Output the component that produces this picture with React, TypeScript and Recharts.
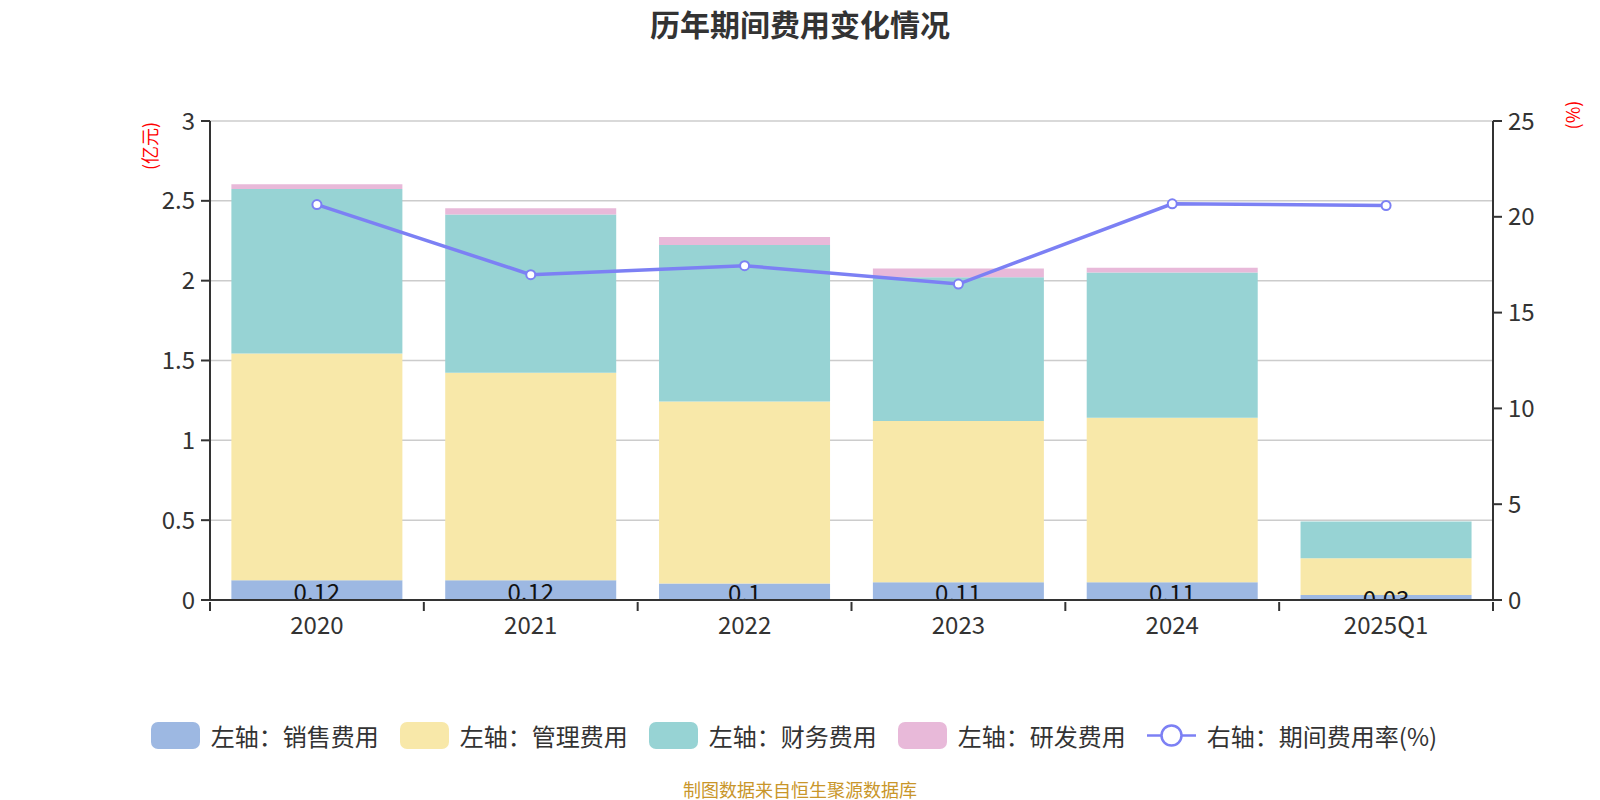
import React from "react"
import {
    ComposedChart,
    Bar,
    Line,
    XAxis,
    YAxis,
    CartesianGrid,
    Legend,
    LabelList,
} from "recharts"

const categories = ["2020", "2021", "2022", "2023", "2024", "2025Q1"]
const salesFee = [0.124, 0.124, 0.103, 0.111, 0.111, 0.032]
const adminFee = [1.42, 1.3, 1.14, 1.01, 1.03, 0.23]
const financeFee = [1.03, 0.99, 0.98, 0.9, 0.91, 0.23]
const rdFee = [0.03, 0.04, 0.05, 0.055, 0.03, 0]
const feeRate = [20.64, 16.98, 17.45, 16.49, 20.68, 20.59]

const leftTicks = [0, 0.5, 1, 1.5, 2, 2.5, 3]
const rightTicks = [0, 5, 10, 15, 20, 25]

const data = categories.map((c, i) => ({
    name: c,
    sales: salesFee[i],
    admin: adminFee[i],
    finance: financeFee[i],
    rd: rdFee[i],
    rate: feeRate[i],
}))

const FONT = "'Noto Sans CJK SC', 'Noto Sans', sans-serif"
const W = 1600
const H = 800
const PLOT_LEFT = 210
const PLOT_RIGHT = 1493
const BAND = (PLOT_RIGHT - PLOT_LEFT) / categories.length

const COLORS = {
    sales: "#9db8e2",
    admin: "#f8e8a9",
    finance: "#97d3d4",
    rd: "#e8b9d9",
    rate: "#7c80f4",
}

const legendItems = [
    { label: "左轴：销售费用", color: COLORS.sales, type: "rect" },
    { label: "左轴：管理费用", color: COLORS.admin, type: "rect" },
    { label: "左轴：财务费用", color: COLORS.finance, type: "rect" },
    { label: "左轴：研发费用", color: COLORS.rd, type: "rect" },
    { label: "右轴：期间费用率(%)", color: COLORS.rate, type: "line" },
]

// ticks sit on the category boundaries, like the original
function XTick(props: any) {
    const { x, y, payload, index } = props
    const left = x - BAND / 2
    return (
        <g>
            <line x1={left} x2={left} y1={y - 6} y2={y + 3} stroke="#333" strokeWidth={2} />
            {index === categories.length - 1 && (
                <line x1={x + BAND / 2} x2={x + BAND / 2} y1={y - 6} y2={y + 3} stroke="#333" strokeWidth={2} />
            )}
            <text x={x} y={y + 9} dy="0.71em" textAnchor="middle" fontSize={24} fill="#333" fontFamily={FONT}>
                {payload.value}
            </text>
        </g>
    )
}

// value label centred in the bar, cut off at the bar's bottom edge
function SalesLabel(props: any) {
    const vb = props.viewBox || props
    const { x, y, width, height } = vb
    const id = `sales-clip-${props.index}`
    const text = String(Number(Number(props.value).toFixed(2)))
    return (
        <g>
            <defs>
                <clipPath id={id}>
                    <rect x={x} y={y - 40} width={width} height={height + 39} />
                </clipPath>
            </defs>
            <text
                x={x + width / 2}
                y={y + height / 2}
                textAnchor="middle"
                dominantBaseline="central"
                fontSize={24}
                fill="#111"
                fontFamily={FONT}
                clipPath={`url(#${id})`}
            >
                {text}
            </text>
        </g>
    )
}

function LegendContent() {
    return (
        <div style={{ display: "flex", justifyContent: "center", alignItems: "center", fontFamily: FONT }}>
            {legendItems.map((item, i) => (
                <div
                    key={item.label}
                    style={{ display: "flex", alignItems: "center", marginRight: i === legendItems.length - 1 ? 0 : 21 }}
                >
                    {item.type === "rect" ? (
                        <div style={{ width: 49, height: 27, borderRadius: 7, background: item.color }} />
                    ) : (
                        <svg width={49} height={27}>
                            <line x1={0} x2={49} y1={13.5} y2={13.5} stroke={item.color} strokeWidth={2.5} />
                            <circle cx={24.5} cy={13.5} r={10} fill="#fff" stroke={item.color} strokeWidth={2.5} />
                        </svg>
                    )}
                    <span style={{ marginLeft: 11, fontSize: 24, color: "#333" }}>{item.label}</span>
                </div>
            ))}
        </div>
    )
}

export default function App() {
    return (
        <div style={{ position: "absolute", left: 0, top: 0, width: W, height: H, background: "#fff", fontFamily: FONT }}>
            <div
                style={{
                    position: "absolute",
                    top: 1,
                    width: W,
                    textAlign: "center",
                    fontSize: 30,
                    fontWeight: 700,
                    color: "#333",
                }}
            >
                历年期间费用变化情况
            </div>
            <div style={{ position: "absolute", left: 149, top: 146, transform: "translate(-50%, -50%) rotate(-90deg)", color: "red", fontSize: 18, whiteSpace: "nowrap" }}>
                (亿元)
            </div>
            <div style={{ position: "absolute", left: 1572, top: 115, transform: "translate(-50%, -50%) rotate(-90deg)", color: "red", fontSize: 18, whiteSpace: "nowrap" }}>
                (%)
            </div>
            <ComposedChart
                width={W}
                height={H}
                data={data}
                margin={{ top: 121, left: 130, right: 47, bottom: 160 }}
                barCategoryGap="10%"
            >
                <CartesianGrid yAxisId="left" vertical={false} stroke="#ccc" strokeWidth={1.5} />
                <XAxis
                    dataKey="name"
                    height={40}
                    axisLine={{ stroke: "#333", strokeWidth: 2 }}
                    tickLine={false}
                    tick={<XTick />}
                    interval={0}
                />
                <YAxis
                    yAxisId="left"
                    width={80}
                    domain={[0, 3]}
                    ticks={leftTicks}
                    allowDataOverflow
                    axisLine={{ stroke: "#333", strokeWidth: 2 }}
                    tickLine={{ stroke: "#333", strokeWidth: 2 }}
                    tickSize={9}
                    tickMargin={6}
                    tick={{ fontSize: 24, fill: "#333", fontFamily: FONT }}
                />
                <YAxis
                    yAxisId="right"
                    orientation="right"
                    width={60}
                    domain={[0, 25]}
                    ticks={rightTicks}
                    axisLine={{ stroke: "#333", strokeWidth: 2 }}
                    tickLine={{ stroke: "#333", strokeWidth: 2 }}
                    tickSize={9}
                    tickMargin={6}
                    tick={{ fontSize: 24, fill: "#333", fontFamily: FONT }}
                />
                <Bar yAxisId="left" dataKey="sales" stackId="a" fill={COLORS.sales} isAnimationActive={false}>
                    <LabelList dataKey="sales" content={(p: any) => <SalesLabel {...p} />} />
                </Bar>
                <Bar yAxisId="left" dataKey="admin" stackId="a" fill={COLORS.admin} isAnimationActive={false} />
                <Bar yAxisId="left" dataKey="finance" stackId="a" fill={COLORS.finance} isAnimationActive={false} />
                <Bar yAxisId="left" dataKey="rd" stackId="a" fill={COLORS.rd} isAnimationActive={false} />
                <Line
                    yAxisId="right"
                    dataKey="rate"
                    stroke={COLORS.rate}
                    strokeWidth={3.5}
                    dot={{ r: 4.5, fill: "#fff", stroke: COLORS.rate, strokeWidth: 2 }}
                    activeDot={false}
                    isAnimationActive={false}
                />
                <Legend
                    verticalAlign="middle"
                    align="center"
                    layout="horizontal"
                    wrapperStyle={{ top: 718, left: -6, width: W }}
                    content={<LegendContent />}
                />
            </ComposedChart>
            <div style={{ position: "absolute", top: 776, width: W, textAlign: "center", fontSize: 18, color: "#c9962a" }}>
                制图数据来自恒生聚源数据库
            </div>
        </div>
    )
}
